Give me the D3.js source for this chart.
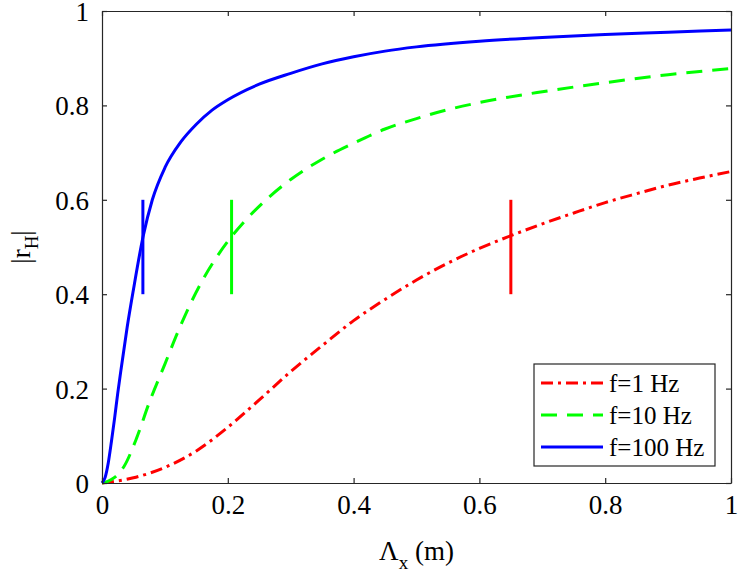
<!DOCTYPE html>
<html><head><meta charset="utf-8">
<script src="https://cdn.jsdelivr.net/npm/d3@7"></script>
<style>body{margin:0;background:#fff}svg{display:block}</style>
</head><body>
<svg id="c" width="742" height="578"></svg>
<script>
// ---- data ----
const seriesNames = ["f=1 Hz", "f=10 Hz", "f=100 Hz"];
const seriesColors = ["#ff0000", "#00ff00", "#0000ff"];
const redX = [0,0.05,0.1,0.15,0.2,0.25,0.3,0.35,0.4,0.45,0.5,0.55,0.6,0.65,0.7,0.75,0.8,0.85,0.9,0.95,1.0];
const redY = [0,0.011,0.033,0.068,0.118,0.176,0.236,0.291,0.344,0.389,0.43,0.466,0.497,0.524,0.549,0.572,0.594,0.613,0.631,0.646,0.66];
const greenX = [0,0.01,0.02,0.035,0.055,0.075,0.1,0.12,0.14,0.16,0.18,0.2,0.225,0.26,0.3,0.35,0.4,0.45,0.5,0.55,0.6,0.7,0.8,0.9,1.0];
const greenY = [0,0.004,0.012,0.035,0.095,0.17,0.252,0.318,0.378,0.43,0.474,0.512,0.552,0.599,0.643,0.686,0.72,0.75,0.772,0.791,0.806,0.829,0.848,0.865,0.878];
const blueX = [0,0.005,0.01,0.015,0.02,0.025,0.03,0.04,0.05,0.065,0.08,0.1,0.125,0.15,0.175,0.2,0.25,0.3,0.35,0.4,0.45,0.5,0.6,0.7,0.8,0.9,1.0];
const blueY = [0,0.012,0.043,0.088,0.137,0.19,0.238,0.33,0.41,0.52,0.6,0.668,0.722,0.76,0.79,0.812,0.845,0.868,0.888,0.903,0.915,0.924,0.936,0.944,0.95,0.955,0.96];
const markerX = [0.65, 0.206, 0.065];
const markerYRange = [0.4, 0.6];
const xTicks = [0, 0.2, 0.4, 0.6, 0.8, 1];
const yTicks = [0, 0.2, 0.4, 0.6, 0.8, 1];
const tickLabels = ["0", "0.2", "0.4", "0.6", "0.8", "1"];

// ---- layout ----
const L = 102, R = 731, T = 11, B = 483;
const FONT = "'Liberation Serif', 'Times New Roman', serif";
const svg = d3.select("#c");
const x = d3.scaleLinear().domain([0, 1]).range([L, R]);
const y = d3.scaleLinear().domain([0, 1]).range([B, T]);
const axisColor = "#262626";
const dashes = ["12,5,3,5", "16,10", null];

// curves
const allSeries = [[redX, redY], [greenX, greenY], [blueX, blueY]];
const line = d3.line().x(d => x(d[0])).y(d => y(d[1])).curve(d3.curveMonotoneX);
const plot = svg.append("g");
allSeries.forEach((s, i) => {
  const pts = s[0].map((v, j) => [v, s[1][j]]);
  plot.append("path").attr("d", line(pts)).attr("fill", "none")
    .attr("stroke", seriesColors[i]).attr("stroke-width", 3)
    .attr("stroke-dasharray", dashes[i]);
});
// markers
markerX.forEach((mx, i) => {
  plot.append("line").attr("x1", x(mx)).attr("x2", x(mx))
    .attr("y1", y(markerYRange[0])).attr("y2", y(markerYRange[1]))
    .attr("stroke", seriesColors[i]).attr("stroke-width", 3);
});

// axes
const fs = 27;
const gB = svg.append("g").attr("transform", `translate(0,${B})`)
  .call(d3.axisBottom(x).tickValues(xTicks).tickFormat((d, i) => tickLabels[i]).tickSizeInner(-5).tickSizeOuter(0).tickPadding(14));
const gT = svg.append("g").attr("transform", `translate(0,${T})`)
  .call(d3.axisTop(x).tickValues(xTicks).tickFormat("").tickSizeInner(-5).tickSizeOuter(0));
const gL = svg.append("g").attr("transform", `translate(${L},0)`)
  .call(d3.axisLeft(y).tickValues(yTicks).tickFormat((d, i) => tickLabels[i]).tickSizeInner(-5).tickSizeOuter(0).tickPadding(13));
const gR = svg.append("g").attr("transform", `translate(${R},0)`)
  .call(d3.axisRight(y).tickValues(yTicks).tickFormat("").tickSizeInner(-5).tickSizeOuter(0));
[gB, gT, gL, gR].forEach(g => {
  g.attr("font-family", null).attr("font-size", null);
  g.select(".domain").attr("stroke", axisColor).attr("stroke-width", 1.2);
  g.selectAll(".tick line").attr("stroke", axisColor).attr("stroke-width", 1.2);
  g.selectAll("text").style("font-size", fs + "px").style("font-family", FONT).attr("fill", "#000");
});
gB.selectAll(".tick text").attr("dy", "0.71em").attr("y", 12);
gL.selectAll(".tick text").attr("dy", "0.35em");

// x label
const xl = svg.append("text").attr("x", (L + R) / 2).attr("y", 560).attr("text-anchor", "middle")
  .style("font-family", FONT).style("font-size", fs + "px");
xl.append("tspan").text("Λ");
xl.append("tspan").style("font-size", "19px").attr("dy", 9).text("x");
xl.append("tspan").attr("dy", -9).text(" (m)");

// y label
const yl = svg.append("text").attr("transform", `translate(30,${(T + B) / 2}) rotate(-90)`).attr("text-anchor", "middle")
  .style("font-family", FONT).style("font-size", fs + "px");
yl.append("tspan").text("|r");
yl.append("tspan").style("font-size", "19px").attr("dy", 8).text("H");
yl.append("tspan").attr("dy", -8).text("|");

// legend
const lg = svg.append("g");
lg.append("rect").attr("x", 534).attr("y", 364).attr("width", 181).attr("height", 102)
  .attr("fill", "#fff").attr("stroke", axisColor).attr("stroke-width", 1.2);
seriesNames.forEach((n, i) => {
  const cy = 383 + i * 32;
  lg.append("line").attr("x1", 541).attr("x2", 603).attr("y1", cy).attr("y2", cy)
    .attr("stroke", seriesColors[i]).attr("stroke-width", 3).attr("stroke-dasharray", dashes[i]);
  lg.append("text").attr("x", 609).attr("y", cy).attr("dy", "0.35em")
    .style("font-family", FONT).style("font-size", "25px").text(n);
});
</script>
</body></html>
